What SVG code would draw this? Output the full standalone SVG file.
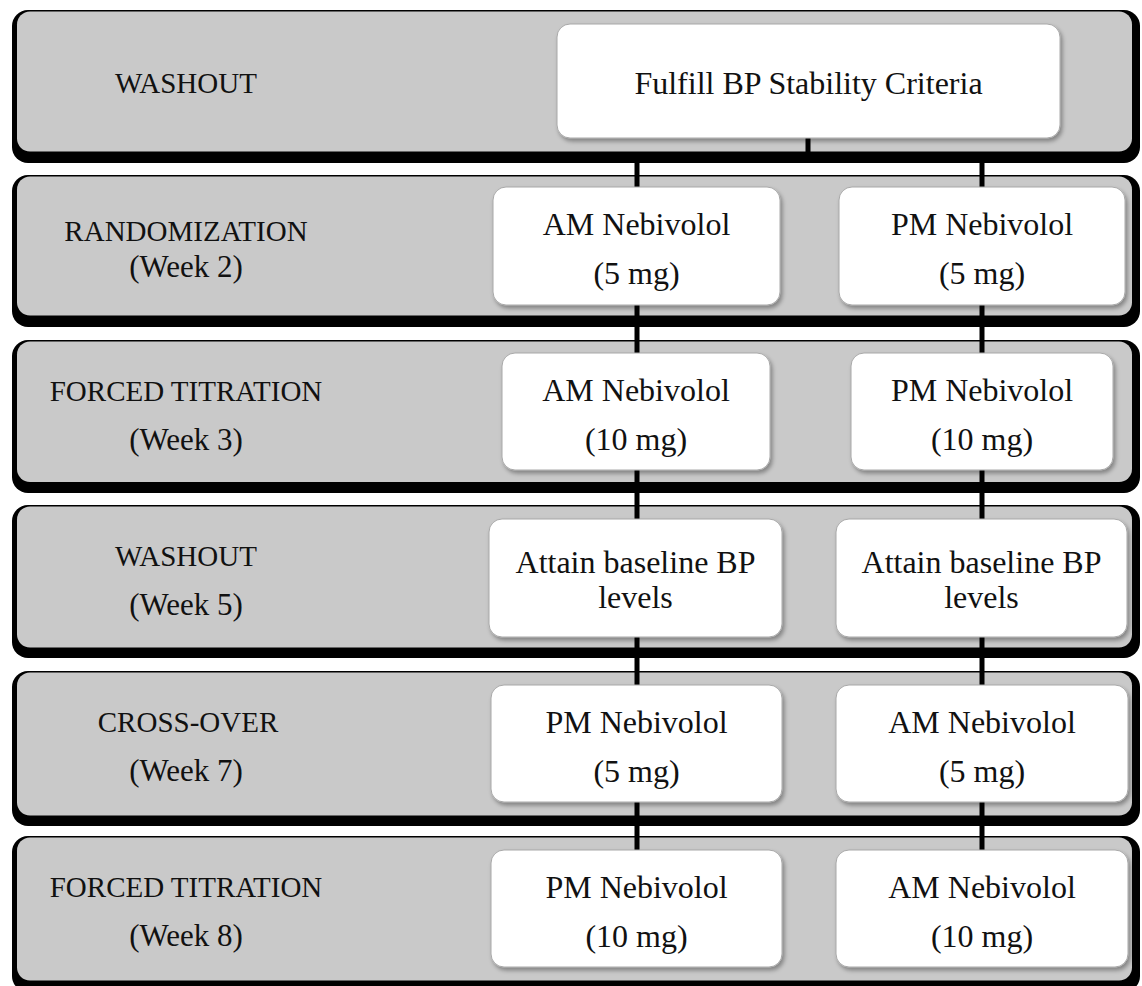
<svg xmlns="http://www.w3.org/2000/svg" width="1142" height="986" viewBox="0 0 1142 986">
  <defs>
    <filter id="sh" x="-10%" y="-10%" width="130%" height="140%">
      <feDropShadow dx="2" dy="3" stdDeviation="2" flood-color="#000" flood-opacity="0.35"/>
    </filter>
  </defs>
  <style>
    .bandOuter { fill: #000; }
    .bandInner { fill: #c9c9c9; }
    .box { fill: #ffffff; stroke: #a8a8a8; stroke-width: 1; filter: url(#sh); }
    .lbl { font-family: "Liberation Serif", "Times New Roman", serif; font-size: 29px; fill: #111; text-anchor: middle; }
    .wk { font-family: "Liberation Serif", "Times New Roman", serif; font-size: 31px; fill: #111; text-anchor: middle; }
    .bt { font-family: "Liberation Serif", "Times New Roman", serif; font-size: 32px; fill: #111; text-anchor: middle; }
    .conn { stroke: #000; stroke-width: 5; fill: none; }
  </style>
  <rect width="1142" height="986" fill="#ffffff"/>

  <!-- Bands -->
  <g id="band1">
    <rect class="bandOuter" x="12" y="10" width="1128" height="153" rx="16"/>
    <rect class="bandInner" x="17" y="11.5" width="1115" height="140" rx="13"/>
    <text class="lbl" x="186" y="93">WASHOUT</text>
  </g>
  <g id="band2">
    <rect class="bandOuter" x="12" y="175" width="1128" height="152" rx="16"/>
    <rect class="bandInner" x="17" y="176.5" width="1115" height="139" rx="13"/>
    <text class="lbl" x="186" y="241">RANDOMIZATION</text>
    <text class="wk" x="186" y="277">(Week 2)</text>
  </g>
  <g id="band3">
    <rect class="bandOuter" x="12" y="340" width="1128" height="153" rx="16"/>
    <rect class="bandInner" x="17" y="341.5" width="1115" height="140.5" rx="13"/>
    <text class="lbl" x="186" y="401">FORCED TITRATION</text>
    <text class="wk" x="186" y="450">(Week 3)</text>
  </g>
  <g id="band4">
    <rect class="bandOuter" x="12" y="505" width="1128" height="153" rx="16"/>
    <rect class="bandInner" x="17" y="506.5" width="1115" height="141" rx="13"/>
    <text class="lbl" x="186" y="566">WASHOUT</text>
    <text class="wk" x="186" y="615">(Week 5)</text>
  </g>
  <g id="band5">
    <rect class="bandOuter" x="12" y="671" width="1128" height="155" rx="16"/>
    <rect class="bandInner" x="17" y="672.5" width="1115" height="143" rx="13"/>
    <text class="lbl" x="188" y="732">CROSS-OVER</text>
    <text class="wk" x="186" y="781">(Week 7)</text>
  </g>
  <g id="band6">
    <rect class="bandOuter" x="12" y="836" width="1128" height="156" rx="16"/>
    <rect class="bandInner" x="17" y="837.5" width="1115" height="143" rx="13"/>
    <text class="lbl" x="186" y="897">FORCED TITRATION</text>
    <text class="wk" x="186" y="946">(Week 8)</text>
  </g>

  <!-- Connectors -->
  <g id="connectors">
    <path class="conn" d="M808,138 V158 M637,158 H982 M637,156 V187 M982,156 V187"/>
    <path class="conn" d="M637,305 V353 M982,305 V353"/>
    <path class="conn" d="M637,470 V519 M982,470 V519"/>
    <path class="conn" d="M637,637 V685 M982,637 V685"/>
    <path class="conn" d="M637,802 V850 M982,802 V850"/>
  </g>

  <!-- Nodes -->
  <g id="node-stability">
    <rect class="box" x="557" y="24" width="503" height="114" rx="13"/>
    <text class="bt" x="808.5" y="94">Fulfill BP Stability Criteria</text>
  </g>
  <g id="node-am5-r">
    <rect class="box" x="493" y="187" width="287" height="118" rx="13"/>
    <text class="bt" x="636.5" y="235">AM Nebivolol</text>
    <text class="bt" x="636.5" y="284">(5 mg)</text>
  </g>
  <g id="node-pm5-r">
    <rect class="box" x="839" y="187" width="286" height="118" rx="13"/>
    <text class="bt" x="982" y="235">PM Nebivolol</text>
    <text class="bt" x="982" y="284">(5 mg)</text>
  </g>
  <g id="node-am10-t">
    <rect class="box" x="502" y="353" width="268" height="117" rx="13"/>
    <text class="bt" x="636" y="401">AM Nebivolol</text>
    <text class="bt" x="636" y="450">(10 mg)</text>
  </g>
  <g id="node-pm10-t">
    <rect class="box" x="851" y="353" width="262" height="117" rx="13"/>
    <text class="bt" x="982" y="401">PM Nebivolol</text>
    <text class="bt" x="982" y="450">(10 mg)</text>
  </g>
  <g id="node-baseline-a">
    <rect class="box" x="489" y="519" width="293" height="118" rx="13"/>
    <text class="bt" x="635.5" y="573">Attain baseline BP</text>
    <text class="bt" x="635.5" y="608">levels</text>
  </g>
  <g id="node-baseline-b">
    <rect class="box" x="836" y="519" width="291" height="118" rx="13"/>
    <text class="bt" x="981.5" y="573">Attain baseline BP</text>
    <text class="bt" x="981.5" y="608">levels</text>
  </g>
  <g id="node-pm5-c">
    <rect class="box" x="491" y="685" width="291" height="117" rx="13"/>
    <text class="bt" x="636.5" y="733">PM Nebivolol</text>
    <text class="bt" x="636.5" y="782">(5 mg)</text>
  </g>
  <g id="node-am5-c">
    <rect class="box" x="836" y="685" width="292" height="117" rx="13"/>
    <text class="bt" x="982" y="733">AM Nebivolol</text>
    <text class="bt" x="982" y="782">(5 mg)</text>
  </g>
  <g id="node-pm10-c">
    <rect class="box" x="491" y="850" width="291" height="117" rx="13"/>
    <text class="bt" x="636.5" y="898">PM Nebivolol</text>
    <text class="bt" x="636.5" y="947">(10 mg)</text>
  </g>
  <g id="node-am10-c">
    <rect class="box" x="836" y="850" width="292" height="117" rx="13"/>
    <text class="bt" x="982" y="898">AM Nebivolol</text>
    <text class="bt" x="982" y="947">(10 mg)</text>
  </g>
</svg>
